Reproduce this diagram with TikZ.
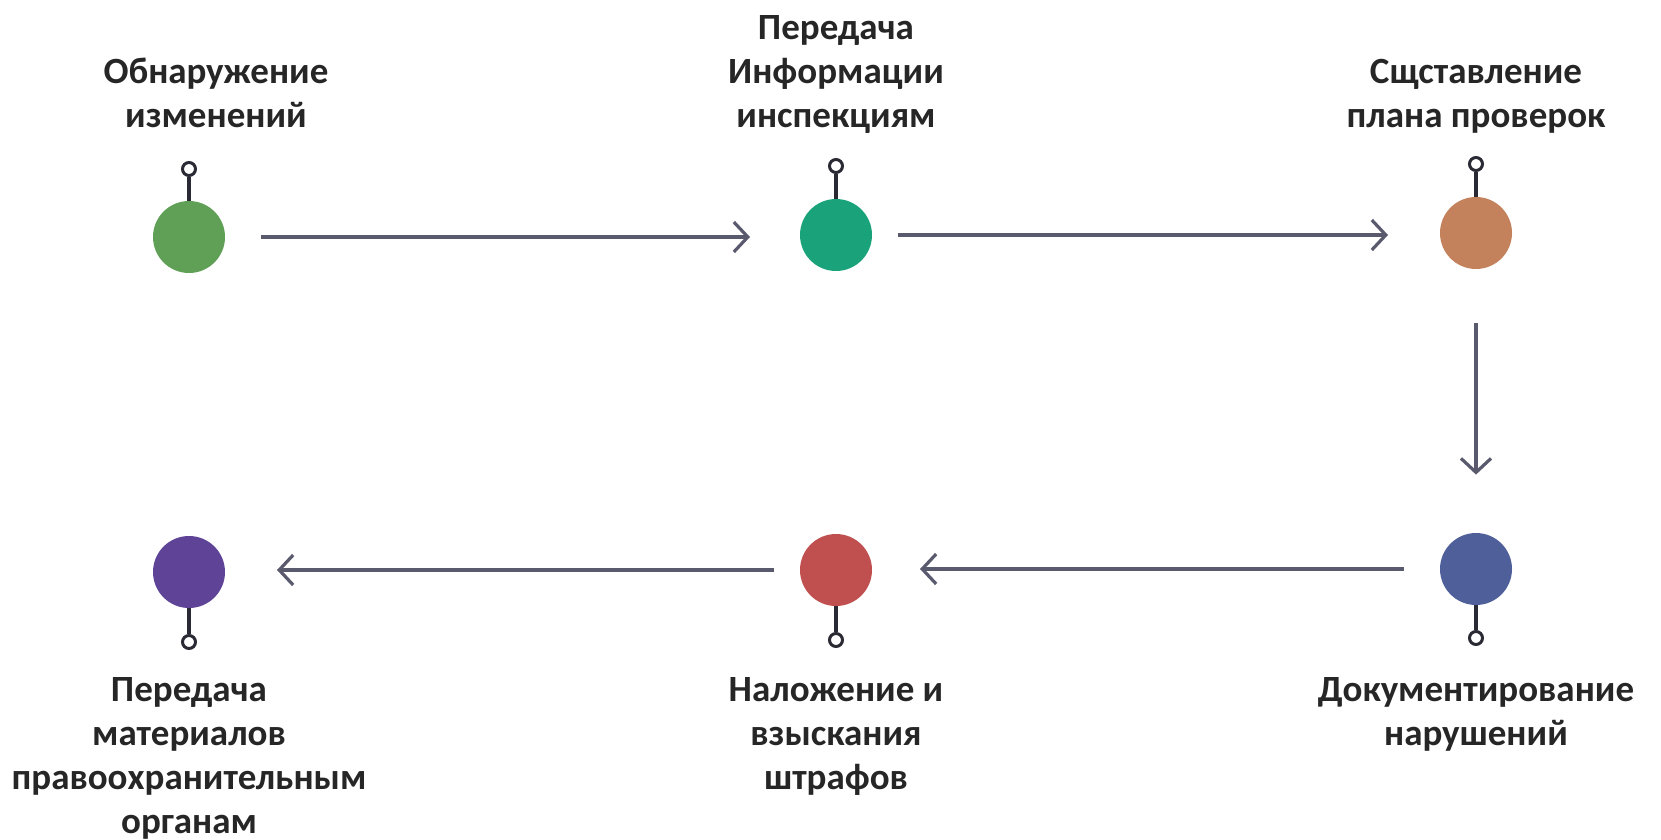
\documentclass[tikz,border=0pt]{standalone}
\usepackage{fontspec}
\setmainfont{Carlito}
\usetikzlibrary{positioning, arrows.meta}

\definecolor{cgreen}{HTML}{5FA056}
\definecolor{cteal}{HTML}{1AA37A}
\definecolor{cbrown}{HTML}{C4825C}
\definecolor{cblue}{HTML}{4E5F9A}
\definecolor{cred}{HTML}{C05050}
\definecolor{cpurple}{HTML}{5E4397}
\definecolor{carrow}{HTML}{5A5A6E}
\definecolor{cstem}{HTML}{2A2A35}
\definecolor{ctext}{HTML}{262626}

\newcommand{\lblstrut}{\rule[-9pt]{0pt}{9pt}}

\begin{document}
\begin{tikzpicture}[x=0.5pt, y=-0.5pt,
    dot/.style={circle, minimum size=36pt, inner sep=0pt},
    knob/.style={circle, draw=cstem, line width=1.5pt, fill=white, minimum size=6.5pt, inner sep=0pt},
    stem/.style={draw=cstem, line width=1.6pt},
    flow/.style={draw=carrow, line width=1.6pt, -{Straight Barb[length=7pt, width=15pt]}},
    lbl/.style={font=\bfseries\fontsize{18.5}{22}\selectfont, text=ctext, align=center, inner sep=0pt}]
    \useasboundingbox (0,0) rectangle (1661,840);

    % top row
    \node[dot, fill=cgreen] (s_1) at (189,237) {};
    \node[dot, fill=cteal] (s_2) at (836,235) {};
    \node[dot, fill=cbrown] (s_3) at (1476,233) {};
    % bottom row
    \node[dot, fill=cpurple] (s_4) at (189,572) {};
    \node[dot, fill=cred] (s_5) at (836,570) {};
    \node[dot, fill=cblue] (s_6) at (1476,569) {};

    % knobs
    \node[knob] (k_1) at (189,169) {};
    \node[knob] (k_2) at (836,166) {};
    \node[knob] (k_3) at (1476,164) {};
    \node[knob] (k_4) at (189,642) {};
    \node[knob] (k_5) at (836,640) {};
    \node[knob] (k_6) at (1476,638) {};
    \foreach \i in {1,...,6}
        \draw[stem] (s_\i) -- (k_\i);

    % labels
    \node[lbl, above=7.5pt of k_1, xshift=13.5pt] (t_1) {Обнаружение\\изменений\lblstrut};
    \node[lbl, above=6pt of k_2] (t_2) {Передача\\Информации\\инспекциям\lblstrut};
    \node[lbl, above=5pt of k_3] (t_3) {Сщставление\\плана проверок\lblstrut};
    \node[lbl, below=13.5pt of k_4] (t_4) {Передача\\материалов\\правоохранительным\\органам};
    \node[lbl, below=14.5pt of k_5] (t_5) {Наложение и\\взыскания\\штрафов};
    \node[lbl, below=15.5pt of k_6] (t_6) {Документирование\\нарушений};

    % flow
    \draw[flow, shorten <=18pt, shorten >=43pt] (s_1) -- (s_1 -| s_2);
    \draw[flow, shorten <=13pt, shorten >=44pt] (s_2) -- (s_2 -| s_3);
    \draw[flow, shorten <=27pt, shorten >=29pt] (s_3) -- (s_6);
    \draw[flow, shorten <=18pt, shorten >=42pt] (s_6) -- (s_6 -| s_5);
    \draw[flow, shorten <=13pt, shorten >=44pt] (s_5) -- (s_5 -| s_4);
\end{tikzpicture}
\end{document}
